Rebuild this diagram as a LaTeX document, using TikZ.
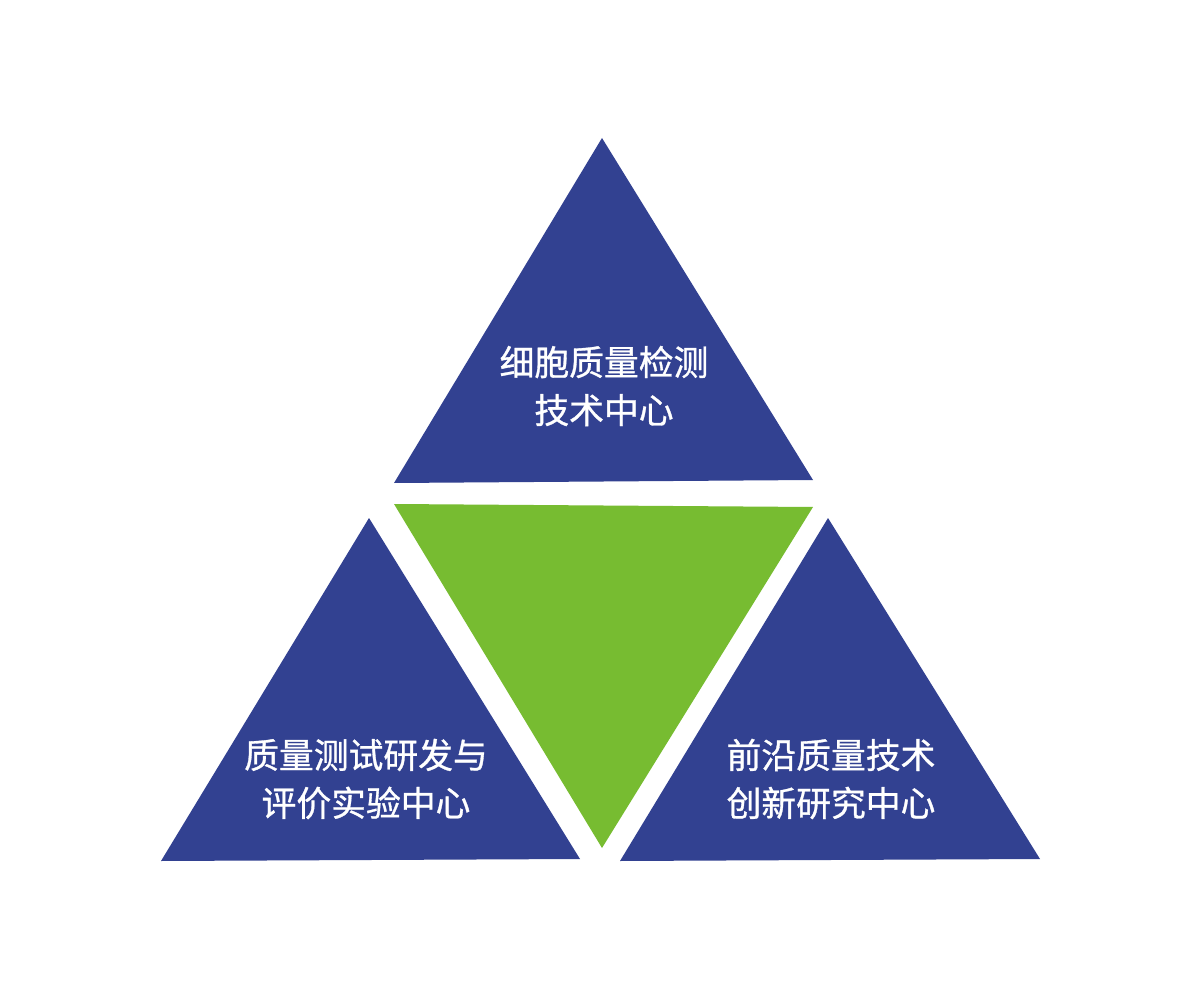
\documentclass[tikz,border=0pt]{standalone}
\usepackage{fontspec}
\newfontfamily\cjk[FakeBold=0.9]{Noto Sans CJK SC}
\definecolor{triblue}{HTML}{324191}
\definecolor{trigreen}{HTML}{77BC31}
\begin{document}
\begin{tikzpicture}[x=1pt,y=-1pt,
  bluetri/.style={fill=triblue,draw=none},
  greentri/.style={fill=trigreen,draw=none},
  label/.style={text=white,font=\cjk\fontsize{34.8}{48}\selectfont,align=center,inner sep=0pt}]
\useasboundingbox (0,0) rectangle (1200,1000);
\fill[white] (0,0) rectangle (1200,1000);
% triangles
\path[bluetri] (602,138) -- (394,483) -- (813,480) -- cycle;
\path[greentri] (394,504) -- (813,507) -- (602,848) -- cycle;
\path[bluetri] (369,518) -- (161,861) -- (580,859) -- cycle;
\path[bluetri] (828,518) -- (620,861) -- (1040,859) -- cycle;
% labels
\node[label] (top) at (604,386) {细胞质量检测\\技术中心};
\node[label] (left) at (366,779) {质量测试研发与\\评价实验中心};
\node[label] (right) at (831,779) {前沿质量技术\\创新研究中心};
\end{tikzpicture}
\end{document}
